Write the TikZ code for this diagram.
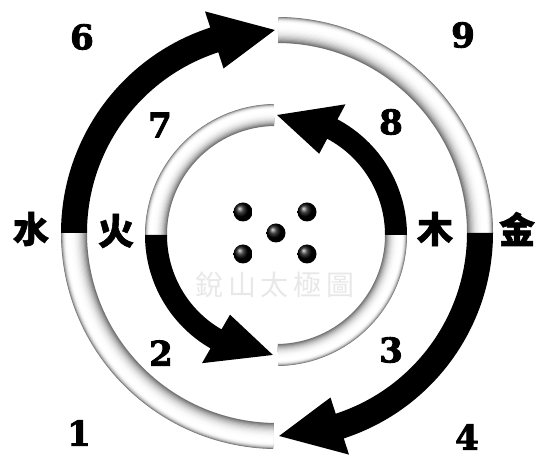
\documentclass[tikz,border=0pt]{standalone}
\usepackage{fontspec}
\newfontfamily\cjkfont[BoldFeatures={FakeBold=1.5}]{Noto Sans CJK TC}
\newfontfamily\numfont[BoldFeatures={FakeBold=2.5}]{DejaVu Serif}
\usetikzlibrary{calc}

% white ring piece: radius, width, start angle, end angle
\newcommand{\tubearc}[4]{%
  \foreach \i [evaluate=\i as \f using 1-\i/16, evaluate=\i as \tone using 55*(1-\i/16)^3] in {0,...,14}{%
    \draw[line width={\f*#2}, black!\tone] ({#3}:{#1+(1-\f)*#2*0.22}) arc[start angle=#3, end angle=#4, radius={#1+(1-\f)*#2*0.22}];
  }%
}
% black ring piece with head: radius, half width, head half width, start, base, tip
\newcommand{\arrowband}[6]{%
  \fill[black] (#4:{#1-#2}) -- (#4:{#1+#2}) arc[start angle=#4, end angle=#5, radius={#1+#2}]
    -- (#5:{#1+#3}) -- (#6:#1) -- (#5:{#1-#3}) -- (#5:{#1-#2})
    arc[start angle=#5, end angle=#4, radius={#1-#2}] -- cycle;
}

\begin{document}
\begin{tikzpicture}[x=1pt, y=1pt,
    numlabel/.style={font=\numfont\bfseries\fontsize{34}{34}\selectfont, inner sep=0pt},
    elemlabel/.style={font=\cjkfont\bfseries\fontsize{36}{36}\selectfont, inner sep=0pt},
    pip/.style={circle, minimum size=19pt, inner sep=0pt, shading=ball, ball color=black},
    stamp/.style={font=\cjkfont\fontsize{28}{28}\selectfont, text=black!9, inner sep=0pt}
]
    \useasboundingbox (0,0) rectangle (538,460);
    \fill[white] (0,0) rectangle (538,460);

    \node[stamp] (mark) at (275,175) {銳\,山\,太\,極\,圖};

    \begin{scope}[shift={(277,227)}]
        \tubearc{203}{26}{89.6}{0}
        \tubearc{203}{26}{180}{269}
        \arrowband{203}{13}{30}{180}{108}{90.6}
        \arrowband{203}{13}{30}{0}{-72}{-89.4}
    \end{scope}
    \begin{scope}[shift={(276,225)}]
        \tubearc{120}{22}{91}{180}
        \tubearc{120}{22}{271}{360}
        \arrowband{120}{11}{28}{0}{62}{89.5}
        \arrowband{120}{11}{28}{180}{240}{268.5}
    \end{scope}

    \node[pip] (p1) at (243,248) {};
    \node[pip] (p2) at (307,248) {};
    \node[pip] (p3) at (276,227) {};
    \node[pip] (p4) at (243,206) {};
    \node[pip] (p5) at (307,206) {};

    \node[elemlabel] (shui) at (31,231) {水};
    \node[elemlabel] (huo) at (116,229) {火};
    \node[elemlabel] (mu) at (435,231) {木};
    \node[elemlabel] (jin) at (517,231) {金};

    \node[numlabel] (n6) at (82,423) {6};
    \node[numlabel] (n9) at (463,425) {9};
    \node[numlabel] (n7) at (160,335) {7};
    \node[numlabel] (n8) at (391,338) {8};
    \node[numlabel] (n2) at (161,107) {2};
    \node[numlabel] (n3) at (391,110) {3};
    \node[numlabel] (n1) at (79,27) {1};
    \node[numlabel] (n4) at (467,23) {4};
\end{tikzpicture}
\end{document}
